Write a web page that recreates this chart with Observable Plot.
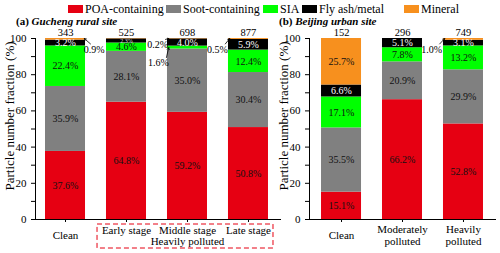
<!DOCTYPE html>
<html><head><meta charset="utf-8">
<script src="https://cdn.jsdelivr.net/npm/d3@7"></script>
<script src="https://cdn.jsdelivr.net/npm/@observablehq/plot@0.6"></script>
<style>
html,body{margin:0;padding:0;background:#fff;font-family:"Liberation Serif","DejaVu Serif",serif;}
#chart{position:relative;width:500px;height:253px;font-family:"Liberation Serif","DejaVu Serif",serif;color:#000;overflow:hidden;}
#chart svg{position:absolute;top:0;overflow:visible;}
#chart svg, #chart svg text{font-family:"Liberation Serif","DejaVu Serif",serif !important;}
.sw{position:absolute;width:15px;height:8px;top:5px;}
.lg{position:absolute;top:3px;font-size:12px;line-height:12px;white-space:nowrap;}
.title{position:absolute;top:15px;font-size:11px;font-weight:bold;line-height:12px;white-space:nowrap;}
.ylab{position:absolute;font-size:13px;white-space:nowrap;transform:translate(-50%,-50%) rotate(-90deg);}
</style></head><body><div id="chart"></div>
<script>
// ---- data ----
const components = ["POA-containing", "Soot-containing", "SIA", "Fly ash/metal", "Mineral"];
const componentColors = ["#e60012", "#808080", "#00ff00", "#000000", "#f7901e"];

const ruralCategories = ["Clean", "Early stage", "Middle stage", "Late stage"];
const ruralGroupLabel = "Heavily polluted";
const ruralPOA = [37.6, 64.8, 59.2, 50.8];
const ruralSoot = [35.9, 28.1, 35.0, 30.4];
const ruralSIA = [22.4, 4.6, 1.6, 12.4];
const ruralFly = [3.2, 2.3, 4.0, 5.9];
const ruralMineral = [0.9, 0.2, 0.2, 0.5];
const ruralTotals = [343, 525, 698, 877];

const urbanCategories = ["Clean", "Moderately\npolluted", "Heavily\npolluted"];
const urbanPOA = [15.1, 66.2, 52.8];
const urbanSoot = [35.5, 20.9, 29.9];
const urbanSIA = [17.1, 7.8, 13.2];
const urbanFly = [6.6, 5.1, 3.1];
const urbanMineral = [25.7, 0, 1.0];
const urbanTotals = [152, 296, 749];

// small-value annotations (value label, bar index, component pointed at)
const ruralNoteLabels = ["0.9%", "0.2%", "1.6%", "0.5%"];
const ruralNoteBars = [0, 2, 2, 3];
const ruralNoteComponents = ["Mineral", "Mineral", "SIA", "Mineral"];
const urbanNoteLabels = ["1.0%"];
const urbanNoteBars = [2];
const urbanNoteComponents = ["Mineral"];

// ---- build tables ----
function buildRows(cats, series) {
  const rows = [];
  cats.forEach((c, i) => {
    let acc = 0;
    components.forEach((k, j) => {
      const v = series[j][i];
      rows.push({i, cat: c, component: k, value: v, y1: acc, y2: acc + v});
      acc += v;
    });
  });
  return rows;
}
const ruralRows = buildRows(ruralCategories, [ruralPOA, ruralSoot, ruralSIA, ruralFly, ruralMineral]);
const urbanRows = buildRows(urbanCategories, [urbanPOA, urbanSoot, urbanSIA, urbanFly, urbanMineral]);

// layout of the annotation labels (offsets in bar units / percent)
const ruralNoteLayout = [
  {side: 1, tx: 0.47, ty: 94.0},
  {side: -1, tx: 0.49, ty: 96.5},
  {side: -1, tx: 0.475, ty: 86.5},
  {side: -1, tx: 0.51, ty: 94.0}
];
const urbanNoteLayout = [{side: -1, tx: 0.52, ty: 94.0}];

function buildNotes(labels, bars, comps, layout, rows) {
  return labels.map((label, k) => {
    const seg = rows.find(r => r.i === bars[k] && r.component === comps[k]);
    const target = comps[k] === "Mineral" ? 100 : (seg.y1 + seg.y2) / 2;
    return {label, bar: bars[k], target, ...layout[k]};
  });
}
const ruralNotes = buildNotes(ruralNoteLabels, ruralNoteBars, ruralNoteComponents, ruralNoteLayout, ruralRows);
const urbanNotes = buildNotes(urbanNoteLabels, urbanNoteBars, urbanNoteComponents, urbanNoteLayout, urbanRows);

const half = 0.328;
const serif = '"Liberation Serif","DejaVu Serif",serif';

function panel({rows, cats, totals, notes, width, marginLeft, marginRight, domain, labelMarks}) {
  const inside = rows.filter(d => d.value >= 2);
  const big = inside.filter(d => d.value >= 3);
  const small = inside.filter(d => d.value < 3);
  return Plot.plot({
    width, height: 253, marginLeft, marginRight, marginTop: 38, marginBottom: 34,
    style: {fontFamily: serif, fontSize: "11px", color: "#000", background: "transparent", overflow: "visible"},
    x: {type: "linear", domain, ticks: cats.length, tickFormat: () => "", tickSize: 3, line: true, label: null},
    y: {domain: [0, 100], ticks: 10, tickFormat: d => (d % 20 === 0 ? d : ""), tickSize: 4, line: true, label: null},
    color: {domain: components, range: componentColors},
    marks: [
      Plot.rect(rows.filter(d => d.value > 0), {x1: d => d.i - half, x2: d => d.i + half, y1: "y1", y2: "y2", fill: "component"}),
      Plot.text(big.filter(d => d.component !== "Fly ash/metal"), {x: "i", y: d => (d.y1 + d.y2) / 2, text: d => d.value.toFixed(1) + "%", fill: "#111", fontSize: 10}),
      Plot.text(big.filter(d => d.component === "Fly ash/metal"), {x: "i", y: d => (d.y1 + d.y2) / 2, text: d => d.value.toFixed(1) + "%", fill: "#fff", fontSize: 10}),
      Plot.text(small, {x: "i", y: d => (d.y1 + d.y2) / 2, text: d => d.value.toFixed(1) + "%", fill: "#ddd", fontSize: 6}),
      Plot.text(totals, {x: (d, i) => i, y: () => 100, text: d => String(d), lineAnchor: "bottom", dy: -3, fontSize: 10.5}),
      Plot.text(notes, {x: d => d.bar + d.side * d.tx, y: "ty", text: "label", fontSize: 10}),
      Plot.arrow(notes, {
        x1: d => d.bar + d.side * (d.tx - (d.side > 0 ? 0.06 : 0.13)), y1: d => d.ty + 3,
        x2: d => d.bar + d.side * (half - 0.02), y2: "target",
        stroke: "#000", strokeWidth: 0.8, headLength: 4
      }),
      ...labelMarks
    ]
  });
}

const chart = document.getElementById("chart");

// legend
const legendX = [68, 166, 263, 302, 404];
components.forEach((c, k) => {
  const sw = document.createElement("div");
  sw.className = "sw"; sw.style.left = legendX[k] + "px"; sw.style.background = componentColors[k];
  chart.appendChild(sw);
  const t = document.createElement("div");
  t.className = "lg"; t.style.left = (legendX[k] + 17) + "px"; t.textContent = c;
  chart.appendChild(t);
});

// left panel
const left = panel({
  rows: ruralRows, cats: ruralCategories, totals: ruralTotals, notes: ruralNotes,
  width: 285, marginLeft: 35, marginRight: 5, domain: [-0.492, 3.525],
  labelMarks: [
    Plot.text([ruralCategories[0]], {x: () => 0, y: () => 0, text: d => d, dy: 16, fontSize: 11}),
    Plot.text(ruralCategories.slice(1), {x: (d, i) => i + 1, y: () => 0, text: d => d, dy: 11, fontSize: 11}),
    Plot.text([ruralGroupLabel], {x: () => 2, y: () => 0, text: d => d, dy: 22, fontSize: 11}),
    Plot.rect([ruralGroupLabel], {x1: () => 0.525, x2: () => 3.41, y1: () => 0, y2: () => 0, insetTop: 5, insetBottom: -29, fill: "none", stroke: "#e60012", strokeDasharray: "5,3", strokeWidth: 1})
  ]
});
left.style.left = "0px";
chart.appendChild(left);

// right panel
const right = panel({
  rows: urbanRows, cats: urbanCategories, totals: urbanTotals, notes: urbanNotes,
  width: 215, marginLeft: 24, marginRight: 5, domain: [-0.525, 2.525],
  labelMarks: [
    Plot.text(urbanCategories, {x: (d, i) => i, y: () => 0, text: d => d, dy: 16, lineAnchor: "middle", lineHeight: 1.09, fontSize: 11})
  ]
});
right.style.left = "285px";
chart.appendChild(right);

// panel titles
function addTitle(x, tag, name) {
  const d = document.createElement("div");
  d.className = "title"; d.style.left = x + "px";
  const a = document.createElement("span"); a.textContent = tag + " ";
  const b = document.createElement("span"); b.textContent = name; b.style.fontStyle = "italic";
  d.appendChild(a); d.appendChild(b);
  chart.appendChild(d);
}
addTitle(16, "(a)", "Gucheng rural site");
addTitle(279, "(b)", "Beijing urban site");

// y-axis labels
function addYLabel(x) {
  const d = document.createElement("div");
  d.className = "ylab"; d.style.left = x + "px"; d.style.top = "116px";
  d.textContent = "Particle number fraction (%)";
  chart.appendChild(d);
}
addYLabel(10);
addYLabel(284);
</script></body></html>
